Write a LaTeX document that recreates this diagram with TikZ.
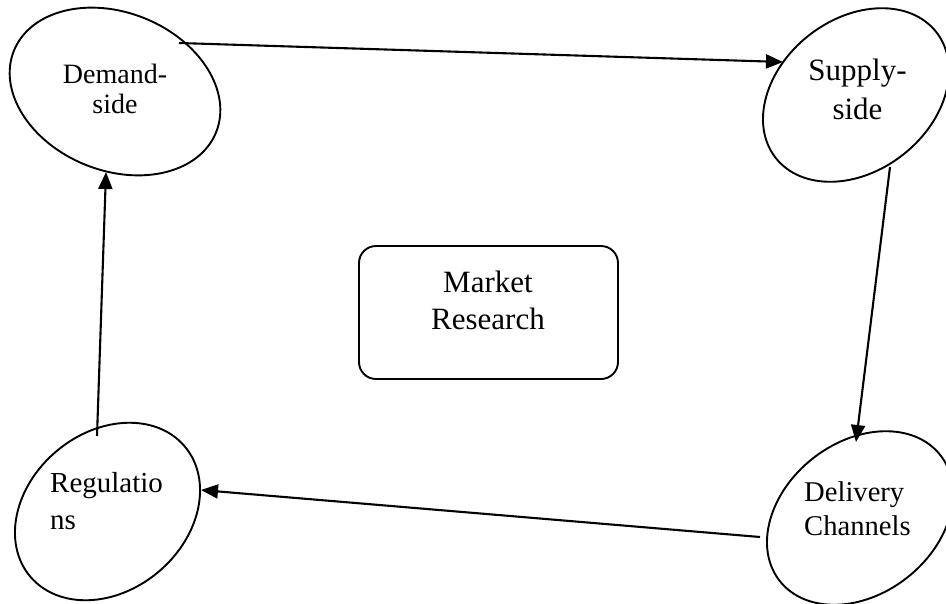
\documentclass[tikz,border=0pt]{standalone}
\usepackage{fontspec}
\setmainfont{Liberation Serif}
\usetikzlibrary{shapes.geometric,arrows.meta}
\begin{document}
\begin{tikzpicture}[x=1pt,y=-1pt,
  oval/.style={draw, ellipse, line width=1.9pt, inner sep=0pt},
  box/.style={draw, rounded corners=17pt, line width=1.9pt, inner sep=0pt},
  flow/.style={line width=2.1pt, -{Triangle[length=17pt,width=14pt]}},
  lbl/.style={inner sep=0pt, anchor=base}]
\useasboundingbox (0,0) rectangle (946,603);

% the four stages, drawn as tilted ovals
\node[oval, minimum width=218pt, minimum height=158pt, rotate=-22] (dem) at (115,91.5) {};
\node[oval, minimum width=204pt, minimum height=152pt, rotate=38] (sup) at (856,95) {};
\node[oval, minimum width=204pt, minimum height=152pt, rotate=38] (del) at (860,518) {};
\node[oval, minimum width=202pt, minimum height=158pt, rotate=40] (reg) at (107.5,511.5) {};

% central box
\node[box, minimum width=259pt, minimum height=133pt] (mr) at (488.5,312.5) {};

% labels (anchored on the baseline of their last line)
\node[lbl, align=center, font=\fontsize{28}{30}\selectfont] (demt) at (115,113) {Demand-\\side};
\node[lbl, align=center, font=\fontsize{31}{39}\selectfont] (supt) at (857.5,119) {Supply-\\side};
\node[lbl, anchor=base west, align=left, font=\fontsize{28.6}{34}\selectfont] (delt) at (804,535) {Delivery\\Channels};
\node[lbl, anchor=base west, align=left, font=\fontsize{29}{37}\selectfont] (regt) at (50,529) {Regulatio\\ns};
\node[lbl, align=center, font=\fontsize{31}{37}\selectfont] (mrt) at (488,329) {Market\\Research};

% connector end points on the oval borders
\coordinate (demout) at (179,43);
\coordinate (supin)  at (783,62);
\coordinate (supout) at (890,167);
\coordinate (delin)  at (856,442);
\coordinate (delout) at (760,537);
\coordinate (regin)  at (201,490);
\coordinate (regout) at (97,436);
\coordinate (demin)  at (106,172);

\draw[flow] (demout) -- (supin);
\draw[flow] (supout) -- (delin);
\draw[flow] (delout) -- (regin);
\draw[flow] (regout) -- (demin);
\end{tikzpicture}
\end{document}
